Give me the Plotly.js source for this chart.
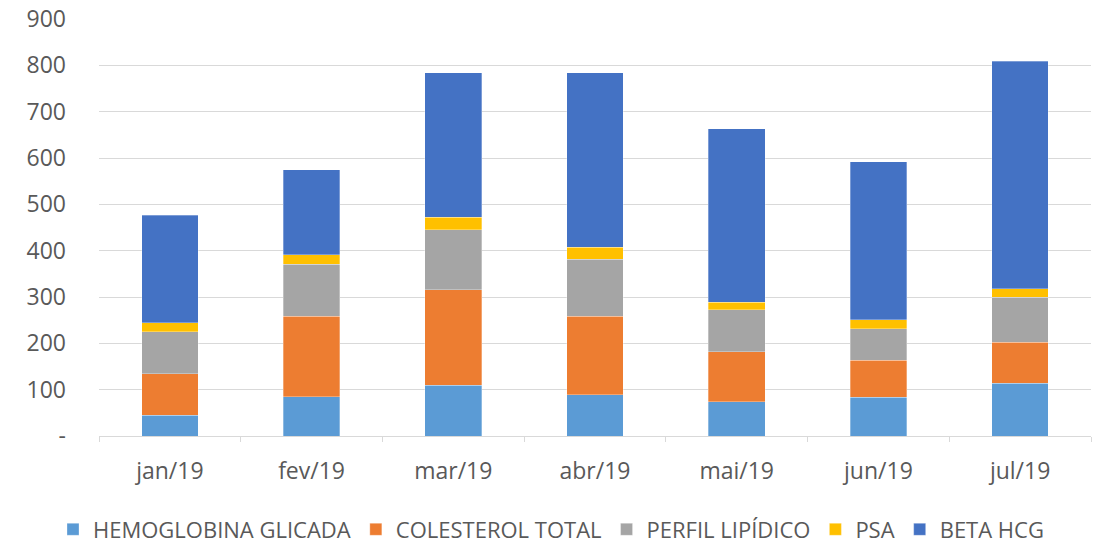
<!DOCTYPE html>
<html>
<head>
<meta charset="utf-8">
<script src="https://cdn.plot.ly/plotly-3.0.1.min.js"></script>
<style>html,body{margin:0;padding:0;background:#fff;}#chart{width:1102px;height:547px;}</style>
</head>
<body>
<div id="chart"></div>
<script>
const months = ["jan/19", "fev/19", "mar/19", "abr/19", "mai/19", "jun/19", "jul/19"];
const hemoglobinaGlicada = [45, 85, 110, 89, 74, 84, 114];
const colesterolTotal = [89, 173, 206, 169, 108, 79, 88];
const perfilLipidico = [91, 113, 129, 123, 91, 68, 97];
const psa = [19, 20, 27, 26, 16, 20, 19];
const betaHcg = [232, 184, 312, 377, 374, 341, 491];
const yTickVals = [0, 100, 200, 300, 400, 500, 600, 700, 800, 900];
const yTickText = ["-", "100", "200", "300", "400", "500", "600", "700", "800", "900"];

const seriesNames = ["HEMOGLOBINA GLICADA", "COLESTEROL TOTAL", "PERFIL LIPÍDICO", "PSA", "BETA HCG"];
const seriesValues = [hemoglobinaGlicada, colesterolTotal, perfilLipidico, psa, betaHcg];
const colors = ["#5B9BD5", "#ED7D31", "#A5A5A5", "#FFC000", "#4472C4"];

const traces = seriesNames.map((n, i) => ({
  type: "bar",
  name: n,
  x: months,
  y: seriesValues[i],
  marker: {color: colors[i], line: {width: 0.5, color: "rgba(255,255,255,0.6)"}},
  hoverinfo: "x+y+name"
}));

const layout = {
  width: 1102, height: 547,
  margin: {l: 99, r: 11, t: 19, b: 111, autoexpand: false},
  barmode: "stack",
  bargap: 0.6,
  paper_bgcolor: "#fff", plot_bgcolor: "#fff",
  font: {family: "Open Sans, Liberation Sans, sans-serif", color: "#595959", size: 22},
  xaxis: {
    type: "category",
    automargin: false,
    showgrid: false,
    showline: true, linecolor: "#d9d9d9", linewidth: 1,
    ticks: "outside", tickson: "boundaries", ticklen: 5, tickcolor: "#d9d9d9",
    ticklabelstandoff: 14,
    tickfont: {size: 23, color: "#595959"},
    fixedrange: true
  },
  yaxis: {
    automargin: false,
    range: [0, 900],
    tickvals: yTickVals, ticktext: yTickText,
    showgrid: true, gridcolor: "#d9d9d9", gridwidth: 1,
    zeroline: false, showline: false,
    ticks: "", ticklabelstandoff: 32,
    tickfont: {size: 23, color: "#595959"},
    fixedrange: true
  },
  showlegend: true,
  legend: {
    orientation: "h", x: 0.5, xref: "container", xanchor: "center",
    y: 0.032, yref: "container", yanchor: "middle",
    font: {size: 22, color: "#595959"},
    traceorder: "normal",
    itemwidth: 30
  }
};

Plotly.newPlot("chart", traces, layout, {displayModeBar: false, staticPlot: true});
</script>
</body>
</html>
